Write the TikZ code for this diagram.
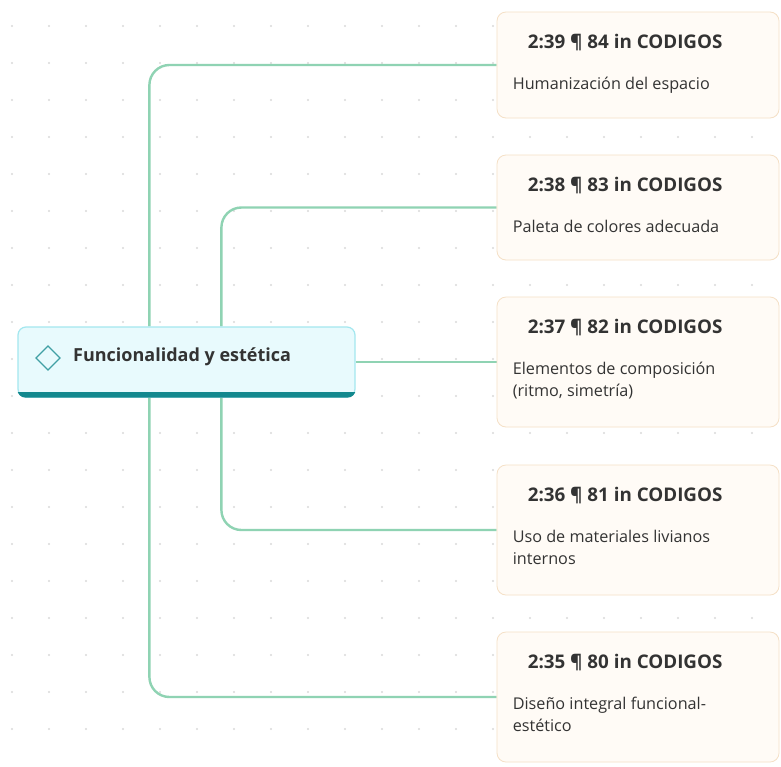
\documentclass[tikz,border=0pt]{standalone}
\usepackage{fontspec}
\setmainfont{Open Sans}
\usetikzlibrary{backgrounds}
\definecolor{linkgreen}{HTML}{8FD3B3}
\definecolor{rootfill}{HTML}{E8FAFD}
\definecolor{rootline}{HTML}{A3E7EF}
\definecolor{rootbar}{HTML}{12888E}
\definecolor{cardfill}{HTML}{FFFBF6}
\definecolor{cardline}{HTML}{F5E0C6}
\definecolor{textgray}{HTML}{333333}
\begin{document}
\begin{tikzpicture}[x=1pt, y=-1pt,
root/.style={draw=rootline, line width=1.2pt, fill=rootfill, rounded corners=8pt, minimum width=337pt, minimum height=70pt, inner sep=0pt},
card/.style={draw=cardline, line width=0.8pt, fill=cardfill, rounded corners=9pt, minimum width=282pt, inner sep=0pt},
title/.style={anchor=base west, inner sep=0pt, font=\fontsize{18.8}{22}\selectfont\bfseries, text=textgray},
body/.style={anchor=north west, inner sep=0pt, align=left, font=\fontsize{16.2}{22}\selectfont, text=textgray},
link/.style={draw=linkgreen, line width=2.4pt, rounded corners=20pt}]
\useasboundingbox (0,0) rectangle (781,766);

\node[root] (root) at (186.5,362) {};
\begin{scope}
\clip[rounded corners=8pt] (root.south west) rectangle (root.north east);
\fill[rootbar] (root.south west) rectangle ([yshift=6pt]root.south east);
\end{scope}
\draw[rootbar!80, line width=1.2pt] (36,358) -- (48,346) -- (60,358) -- (48,370) -- cycle;
\node[anchor=west, inner sep=0pt, font=\fontsize{18}{22}\selectfont\bfseries, text=textgray] (rootlabel) at (73,357) {Funcionalidad y estética};

\node[card, minimum height=106pt] (c1) at (638,65) {};
\node[card, minimum height=105pt] (c2) at (638,207.5) {};
\node[card, minimum height=130pt] (c3) at (638,362) {};
\node[card, minimum height=130pt] (c4) at (638,530) {};
\node[card, minimum height=130pt] (c5) at (638,697) {};

\foreach \c/\code/\txt in {c1/2:39 ¶ 84/Humanización del espacio, c2/2:38 ¶ 83/Paleta de colores adecuada, c3/2:37 ¶ 82/{Elementos de composición\\(ritmo, simetría)}, c4/2:36 ¶ 81/{Uso de materiales livianos\\internos}, c5/2:35 ¶ 80/{Diseño integral funcional-\\estético}}{
\node[title] (\c-title) at ([xshift=31pt,yshift=-37pt]\c.north west) {\code{} in CODIGOS};
\node[body] (\c-body) at ([xshift=16pt,yshift=-65pt]\c.north west) {\txt};
}

\begin{scope}[on background layer]
\fill[white] (0,0) rectangle (781,766);
\foreach \i in {0,...,20}
\foreach \j in {0,...,19}
\fill[black!15] (12+37*\i,26+37*\j) circle (1.1pt);
\draw[link] ([xshift=132pt]root.north west) |- (c1.west);
\draw[link] ([xshift=204pt]root.north west) |- (c2.west);
\draw[link] (root.east) -- (c3.west);
\draw[link] ([xshift=204pt]root.south west) |- (c4.west);
\draw[link] ([xshift=132pt]root.south west) |- (c5.west);
\end{scope}
\end{tikzpicture}
\end{document}
